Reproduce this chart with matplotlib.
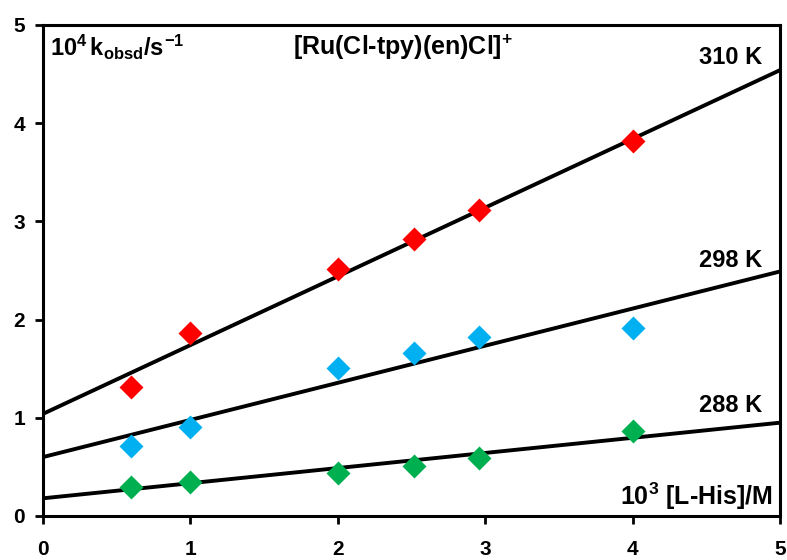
import numpy as np
import matplotlib.pyplot as plt

plt.rcParams['font.family'] = 'Liberation Sans'
plt.rcParams['font.weight'] = 'bold'
plt.rcParams['mathtext.fontset'] = 'custom'
plt.rcParams['mathtext.rm'] = 'Liberation Sans:bold'
plt.rcParams['mathtext.it'] = 'Liberation Sans:bold'
plt.rcParams['mathtext.bf'] = 'Liberation Sans:bold'

# 10^3 [L-His] / M
conc = [0.6, 1.0, 2.0, 2.52, 2.96, 4.0]

# 10^4 kobsd / s^-1
k_310 = [1.31, 1.86, 2.52, 2.82, 3.12, 3.82]
k_298 = [0.71, 0.91, 1.51, 1.66, 1.82, 1.91]
k_288 = [0.30, 0.35, 0.44, 0.51, 0.59, 0.87]

# fitted lines (intercept, slope)
fit_310 = [1.04, 0.70]
fit_298 = [0.60, 0.378]
fit_288 = [0.18, 0.154]

temps = ['310 K', '298 K', '288 K']
colors = ['#FF0000', '#00B0F0', '#00B050']

fig = plt.figure(figsize=(7.87, 5.6), dpi=100)
ax = fig.add_axes([0.0546, 0.0786, 0.9365, 0.8768])

xx = np.array([0, 5])
for ks, fit, c in zip([k_310, k_298, k_288], [fit_310, fit_298, fit_288], colors):
    ax.plot(xx, fit[0] + fit[1] * xx, color='black', lw=2.8, zorder=2,
            clip_on=False, solid_capstyle='butt')
    ax.plot(conc, ks, 'D', color=c, ms=12.5, mec='none', zorder=3)

ax.set_xlim(0, 5)
ax.set_ylim(0, 5)
ax.set_xticks(range(6))
ax.set_yticks(range(6))
ax.tick_params(direction='out', width=2, length=6, labelsize=15, pad=11)
ax.tick_params(axis='y', pad=7)
for s in ax.spines.values():
    s.set_linewidth(2.2)

ax.text(0.05, 4.77, r'$10^4\,\mathregular{k}_{obsd}/s^{-1}$', fontsize=17, va='center')
ax.text(2.44, 4.77, r'[Ru(Cl-tpy)(en)Cl]$^{+}$', fontsize=18, va='center', ha='center')
ax.text(4.95, 0.2, r'$10^3$ [L-His]/M', fontsize=18, va='center', ha='right')

label_y = [4.67, 2.6, 1.12]
for t, y in zip(temps, label_y):
    ax.text(4.88, y, t, fontsize=17, ha='right', va='center')

fig.savefig('out.png', dpi=100)
